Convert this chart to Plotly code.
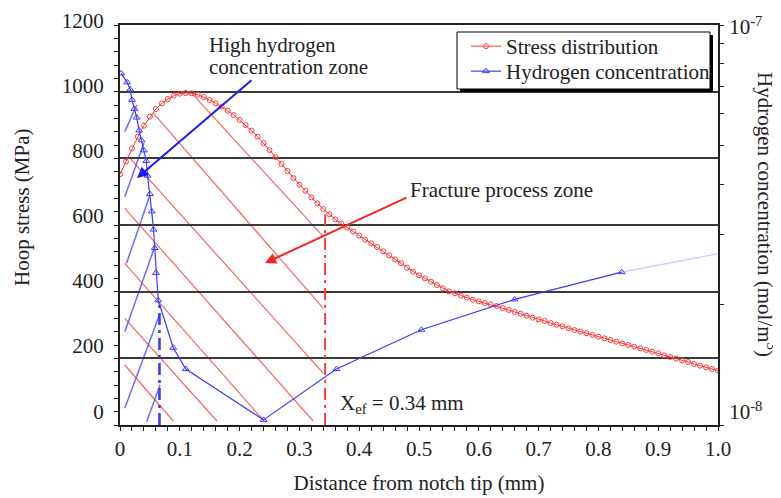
import plotly.graph_objects as go
import numpy as np

# ---------------- data ----------------
distance_mm = [0.00, 0.01, 0.02, 0.03, 0.04, 0.05, 0.06, 0.07, 0.08, 0.09,
               0.10, 0.11, 0.12, 0.13, 0.14, 0.15, 0.16, 0.17, 0.18, 0.19,
               0.20, 0.21, 0.22, 0.23, 0.24, 0.25, 0.26, 0.27, 0.28, 0.29,
               0.30, 0.31, 0.32, 0.33, 0.34, 0.35, 0.36, 0.37, 0.38, 0.39,
               0.40, 0.41, 0.42, 0.43, 0.44, 0.45, 0.46, 0.47, 0.48, 0.49,
               0.50, 0.51, 0.52, 0.53, 0.54, 0.55, 0.56, 0.57, 0.58, 0.59,
               0.60, 0.61, 0.62, 0.63, 0.64, 0.65, 0.66, 0.67, 0.68, 0.69,
               0.70, 0.71, 0.72, 0.73, 0.74, 0.75, 0.76, 0.77, 0.78, 0.79,
               0.80, 0.81, 0.82, 0.83, 0.84, 0.85, 0.86, 0.87, 0.88, 0.89,
               0.90, 0.91, 0.92, 0.93, 0.94, 0.95, 0.96, 0.97, 0.98, 0.99, 1.00]
hoop_stress_mpa = [752, 790, 830, 865, 898, 925, 948, 965, 978, 988,
                   994, 996, 995, 991, 984, 975, 965, 955, 943, 930,
                   915, 900, 883, 865, 846, 825, 804, 783, 762, 741,
                   721, 703, 683, 665, 648, 632, 617, 604, 592, 580,
                   568, 556, 545, 534, 521, 509, 497, 485, 472, 460,
                   449, 440, 430, 420, 410, 401, 395, 388, 382, 376,
                   371, 366, 362, 357, 351, 345, 339, 334, 328, 322,
                   317, 312, 306, 301, 296, 290, 285, 280, 275, 270,
                   265, 260, 255, 250, 245, 240, 235, 230, 225, 220,
                   215, 209, 204, 199, 194, 189, 183, 178, 173, 168, 163]

h_distance_mm = [0.002, 0.012, 0.017, 0.020, 0.024, 0.028, 0.032, 0.036, 0.040,
                 0.044, 0.046, 0.050, 0.053, 0.056, 0.058, 0.060, 0.064, 0.089,
                 0.110, 0.240, 0.362, 0.504, 0.660, 0.839]
h_concentration = [7.57e-8, 7.19e-8, 6.90e-8, 6.50e-8, 6.17e-8, 5.87e-8, 5.45e-8,
                   5.15e-8, 4.86e-8, 4.57e-8, 4.20e-8, 3.78e-8, 3.42e-8, 3.08e-8,
                   2.77e-8, 2.40e-8, 2.05e-8, 1.56e-8, 1.38e-8, 1.03e-8, 1.38e-8,
                   1.73e-8, 2.06e-8, 2.41e-8]
h_tail_distance_mm = [0.839, 1.000]
h_tail_concentration = [2.41e-8, 2.68e-8]

x_tick_vals = [0.0, 0.1, 0.2, 0.3, 0.4, 0.5, 0.6, 0.7, 0.8, 0.9, 1.0]
x_tick_text = ["0", "0.1", "0.2", "0.3", "0.4", "0.5", "0.6", "0.7", "0.8", "0.9", "1.0"]
stress_tick_vals = [0, 200, 400, 600, 800, 1000, 1200]
stress_tick_text = ["0", "200", "400", "600", "800", "1000", "1200"]
conc_tick_vals = [1e-8, 2e-8, 3e-8, 4e-8, 5e-8, 6e-8, 7e-8, 8e-8, 9e-8, 1e-7]
conc_label_text = ["10<sup>-8</sup>", "10<sup>-7</sup>"]

x_ef = 0.343          # effective distance
x_high_h = 0.066      # high hydrogen zone boundary

# hatch segments (x0, y0, x1, y1) in mm / MPa
red_hatch = [(0.008, 180, 0.089, 12), (0.008, 320, 0.162, 12), (0.008, 485, 0.241, 12),
             (0.008, 650, 0.323, 12), (0.017, 800, 0.340, 155), (0.056, 935, 0.340, 350),
             (0.120, 995, 0.340, 565)]
blue_hatch = [(0.008, 880, 0.028, 960), (0.008, 685, 0.040, 846), (0.011, 485, 0.050, 690),
              (0.008, 280, 0.0585, 537), (0.008, 50, 0.067, 335), (0.0446, 10, 0.067, 120)]

FONT = "Liberation Serif, Times New Roman, serif"
RED = "#ff3b3b"
BLUE = "#3b3bff"
TXT = "#222"

# plot area in page pixels; the page body adds an 8px offset
OFF = 8
W, H = 781 - OFF, 498 - OFF
L, R, T, B = 120, 718, 25, 425
def px(xp):
    return (xp - L) / (R - L)
def py(yp):
    return (B - yp) / (B - T)

fig = go.Figure()

fig.add_trace(go.Scatter(
    x=distance_mm, y=hoop_stress_mpa, mode="lines+markers", name="Stress distribution",
    line=dict(color=RED, width=1), legend="legend",
    marker=dict(symbol="circle-open", size=5, color=RED, line=dict(width=1)),
))
fig.add_trace(go.Scatter(
    x=h_distance_mm, y=h_concentration, mode="lines+markers", name="Hydrogen concentration",
    yaxis="y2", line=dict(color=BLUE, width=1.2), legend="legend2",
    marker=dict(symbol="triangle-up-open", size=6, color=BLUE, line=dict(width=1)),
))
fig.add_trace(go.Scatter(
    x=h_tail_distance_mm, y=h_tail_concentration, mode="lines", yaxis="y2",
    line=dict(color="rgba(90,90,255,0.35)", width=1.2), showlegend=False, hoverinfo="skip",
))
stress_at_xef = float(np.interp(x_ef, distance_mm, hoop_stress_mpa))
fig.add_trace(go.Scatter(
    x=[x_ef, x_ef], y=[0, stress_at_xef - 12], mode="lines",
    line=dict(color=RED, width=2, dash="12px,5px,3px,5px"), showlegend=False, hoverinfo="skip",
))
conc_at_boundary = float(np.interp(x_high_h, h_distance_mm[:18], h_concentration[:18]))
fig.add_trace(go.Scatter(
    x=[x_high_h, x_high_h], y=[1e-8, conc_at_boundary], mode="lines", yaxis="y2",
    line=dict(color=BLUE, width=2.6, dash="12px,5px,3px,5px"), showlegend=False, hoverinfo="skip",
))
fig.add_trace(go.Scatter(x=[0.5], y=[500], yaxis="y3", mode="markers", marker=dict(opacity=0),
                         showlegend=False, hoverinfo="skip"))
fig.add_trace(go.Scatter(x=[0.5], y=[3e-8], yaxis="y4", mode="markers", marker=dict(opacity=0),
                         showlegend=False, hoverinfo="skip"))

shapes = []
for x0, y0, x1, y1 in red_hatch:
    shapes.append(dict(type="line", xref="x", yref="y", x0=x0, y0=y0, x1=x1, y1=y1,
                       line=dict(color="rgba(255,70,70,0.85)", width=1.2), layer="below"))
for x0, y0, x1, y1 in blue_hatch:
    shapes.append(dict(type="line", xref="x", yref="y", x0=x0, y0=y0, x1=x1, y1=y1,
                       line=dict(color="rgba(70,70,255,0.8)", width=1.5), layer="below"))
shapes.append(dict(type="rect", xref="paper", yref="paper", x0=px(460), x1=px(713), y0=py(92), y1=py(35),
                   fillcolor="black", line=dict(width=0), layer="above"))
shapes.append(dict(type="rect", xref="paper", yref="paper", x0=px(457), x1=px(710), y0=py(89), y1=py(32),
                   fillcolor="white", line=dict(color="black", width=1), layer="above"))

def label(text, x, y, **kw):
    d = dict(text=text, xref="paper", yref="paper", x=px(x), y=py(y), xanchor="left",
             yanchor="middle", showarrow=False, font=dict(size=21, family=FONT, color=TXT))
    d.update(kw)
    return d

annotations = [
    label("High hydrogen", 207, 45),
    label("concentration zone", 207, 67),
    label("Fracture process zone", 408, 190),
    label("X<sub>ef</sub> = 0.34 mm", 338, 404),
    dict(x=0.0284, y=741, ax=0.2224, ay=1038, xref="x", yref="y", axref="x", ayref="y", text="",
         showarrow=True, arrowhead=2, arrowsize=1.1, arrowwidth=2, arrowcolor="#1a1aff"),
    dict(x=0.2425, y=486, ax=0.4816, ay=684, xref="x", yref="y", axref="x", ayref="y", text="",
         showarrow=True, arrowhead=2, arrowsize=1.1, arrowwidth=2, arrowcolor="#ff2020"),
    dict(x=x_ef, y=stress_at_xef - 2, ax=x_ef, ay=stress_at_xef - 14, xref="x", yref="y", axref="x",
         ayref="y", text="", showarrow=True, arrowhead=5, arrowsize=1.2, arrowwidth=2, arrowcolor=RED),
    label("Hoop stress (MPa)", 22, 207, textangle=-90, xanchor="center"),
    label("Hydrogen concentration (mol/m<sup>3</sup>)", 767, 214, textangle=90, xanchor="center"),
]

tickfont = dict(size=21, family=FONT, color=TXT)
fig.update_layout(
    width=W, height=H,
    margin=dict(l=L - OFF, r=W - (R - OFF), t=T - OFF, b=H - (B - OFF), autoexpand=False),
    paper_bgcolor="white", plot_bgcolor="white",
    font=dict(family=FONT, size=21, color=TXT),
    showlegend=True,
    legend=dict(x=px(466), y=py(26), xanchor="left", yanchor="top", bgcolor="rgba(0,0,0,0)",
                borderwidth=0, font=tickfont, itemwidth=30),
    legend2=dict(x=px(466), y=py(51), xanchor="left", yanchor="top", bgcolor="rgba(0,0,0,0)",
                 borderwidth=0, font=tickfont, itemwidth=30),
    xaxis=dict(range=[0, 1.0], tickmode="array", tickvals=x_tick_vals, ticktext=x_tick_text,
               ticks="outside", ticklen=4, tickwidth=1.2, tickcolor=TXT, automargin=False,
               minor=dict(dtick=0.02, ticks="outside", ticklen=4, tickcolor=TXT, tickwidth=1),
               showline=True, linecolor=TXT, linewidth=1.5, mirror=True,
               showgrid=False, zeroline=False, ticklabelstandoff=0, tickfont=tickfont,
               title=dict(text="Distance from notch tip (mm)", standoff=15, font=tickfont)),
    yaxis=dict(range=[0, 1200], tickmode="array", tickvals=stress_tick_vals, showticklabels=False,
               ticks="outside", ticklen=4, tickwidth=1.2, tickcolor=TXT, automargin=False,
               minor=dict(dtick=40, ticks="outside", ticklen=4, tickcolor=TXT, tickwidth=1),
               showline=True, linecolor=TXT, linewidth=1.5,
               showgrid=True, gridcolor="#3a3a3a", gridwidth=1.6, zeroline=False),
    yaxis2=dict(type="log", range=[-8, -7], overlaying="y", side="right", anchor="x",
                tickmode="array", tickvals=conc_tick_vals, showticklabels=False, automargin=False,
                ticks="outside", ticklen=4, tickwidth=1.2, tickcolor=TXT,
                showline=True, linecolor=TXT, linewidth=1.5, showgrid=False, zeroline=False),
    yaxis3=dict(range=[-27.1, 1200.5], overlaying="y", side="left", anchor="x", automargin=False,
                tickmode="array", tickvals=stress_tick_vals, ticktext=stress_tick_text,
                ticks="outside", ticklen=11, tickcolor="rgba(0,0,0,0)", ticklabelshift=-5,
                showline=False, showgrid=False, zeroline=False, tickfont=tickfont),
    yaxis4=dict(type="log", range=[-8, -7], overlaying="y", side="right", anchor="x", automargin=False,
                tickmode="array", tickvals=[10 ** -7.9675, 10 ** -7.005], ticktext=conc_label_text,
                ticks="outside", ticklen=6, tickcolor="rgba(0,0,0,0)",
                showline=False, showgrid=False, zeroline=False, tickfont=tickfont),
    shapes=shapes,
    annotations=annotations,
)

fig.write_html("out.html")
